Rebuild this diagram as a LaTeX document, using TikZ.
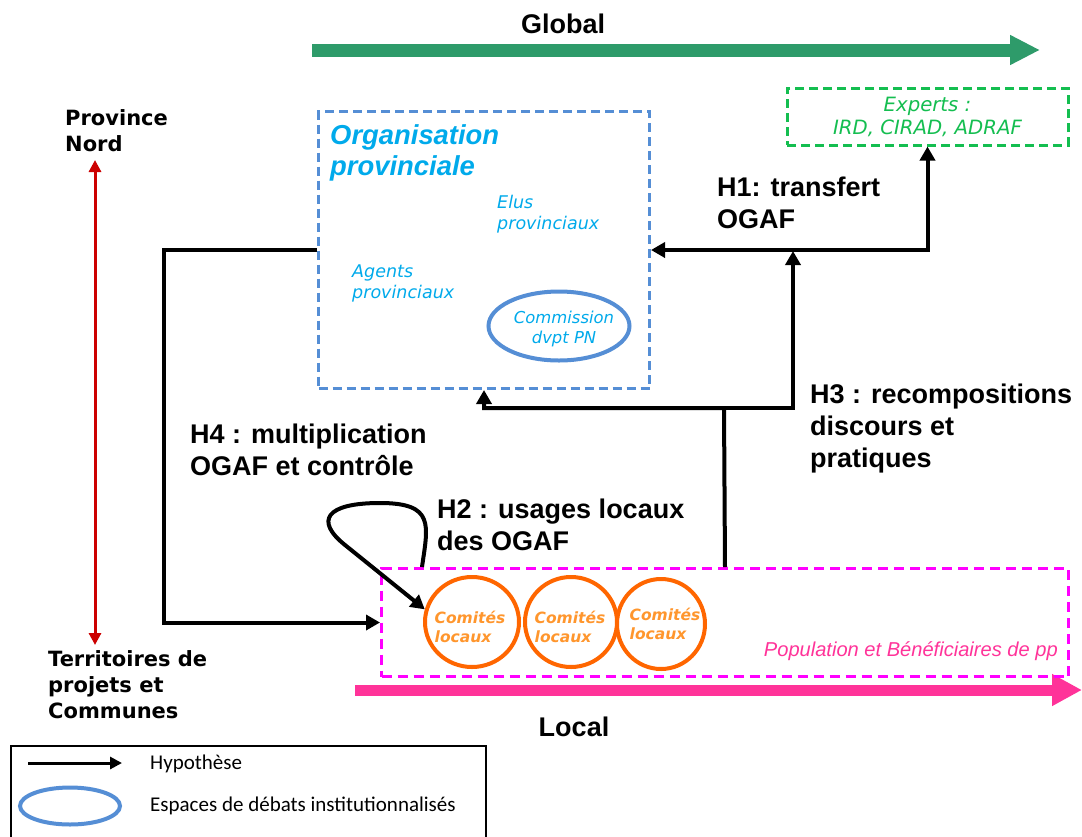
\documentclass[tikz,border=0pt]{standalone}
\usepackage{fontspec}
\setmainfont{Liberation Sans}
\newfontfamily\dvfont{DejaVu Sans}
\newfontfamily\carlfont{Carlito}
\usetikzlibrary{arrows.meta,shapes.geometric}
\definecolor{globgreen}{RGB}{46,155,106}
\definecolor{locpink}{RGB}{255,51,153}
\definecolor{provred}{RGB}{204,0,0}
\definecolor{boxblue}{RGB}{85,142,213}
\definecolor{txtcyan}{RGB}{0,170,235}
\definecolor{expgreen}{RGB}{20,190,80}
\definecolor{magbox}{RGB}{255,0,255}
\definecolor{orangering}{RGB}{255,102,0}
\definecolor{orangetxt}{RGB}{255,150,45}
\tikzset{htip/.tip={Triangle[length=14pt,width=15pt]}}
\begin{document}
\begin{tikzpicture}[x=1pt,y=-1pt,
  hyp/.style={line width=4pt, draw=black},
  hlabel/.style={font=\bfseries\fontsize{27}{32}\selectfont, align=left, anchor=north west, inner sep=0pt},
  axlabel/.style={font=\dvfont\bfseries\fontsize{21}{26}\selectfont, align=left, anchor=north west, inner sep=0pt},
  scaletxt/.style={font=\bfseries\fontsize{27}{32}\selectfont, anchor=base, inner sep=0pt},
  provtxt/.style={font=\dvfont\itshape\fontsize{17.5}{21}\selectfont, text=txtcyan, align=left, anchor=north west, inner sep=0pt},
  dashbox/.style={line width=3pt, dash pattern=on 9pt off 5pt, inner sep=0pt, anchor=north west},
  comring/.style={ellipse, draw=orangering, line width=4pt, minimum height=90pt, inner sep=0pt},
  comtxt/.style={font=\dvfont\bfseries\itshape\fontsize{15.5}{19}\selectfont, text=orangetxt, align=left, inner sep=0pt},
  legtxt/.style={font=\carlfont\fontsize{21}{25}\selectfont, anchor=west, inner sep=0pt}
]
\useasboundingbox (0,0) rectangle (1082,836);
\fill[white] (0,0) rectangle (1082,836);

% scale arrows
\coordinate (g1) at (312,50);
\coordinate (g2) at (1040,50);
\draw[globgreen, line width=13pt, -{Triangle[length=30pt,width=28pt]}] (g1) -- (g2);
\node[scaletxt] (glob) at (563,33) {Global};

\coordinate (l1) at (355,690);
\coordinate (l2) at (1082,690);
\draw[locpink, line width=11pt, -{Triangle[length=30pt,width=30pt]}] (l1) -- (l2);
\node[scaletxt] (loc) at (574,736) {Local};

% vertical axis
\node[axlabel] (pn) at (65,109) {Province\\Nord};
\node[axlabel] (terr) at (48,650) {Territoires de\\projets et\\Communes};
\coordinate (rtop) at (95,160);
\coordinate (rbot) at (95,645);
\draw[provred, line width=3pt, {Triangle[length=12pt,width=12pt]}-{Triangle[length=12pt,width=12pt]}] (rtop) -- (rbot);

% boxes
\node[dashbox, draw=boxblue, minimum width=331pt, minimum height=277pt] (org) at (317,110) {};
\node[dashbox, draw=expgreen, minimum width=281pt, minimum height=57pt, anchor=center,
      font=\dvfont\itshape\fontsize{19.7}{23}\selectfont, text=expgreen, align=center] (exp) at (927.5,116.5) {Experts :\\IRD, CIRAD, ADRAF};
\node[dashbox, draw=magbox, dash pattern=on 10pt off 6pt, minimum width=687pt, minimum height=108pt] (pop) at (380,567) {};

% inside org
\node[font=\bfseries\itshape\fontsize{27.4}{31}\selectfont, text=txtcyan, align=left, anchor=north west, inner sep=0pt] (ot) at (330,124) {Organisation\\provinciale};
\node[provtxt] (elus) at (497,195) {Elus\\provinciaux};
\node[provtxt] (agents) at (352,265) {Agents\\provinciaux};
\node[ellipse, draw=boxblue, line width=4pt, minimum width=141pt, minimum height=69pt, inner sep=0pt] (com) at (559,326) {};
\node[font=\dvfont\itshape\fontsize{16.4}{20}\selectfont, text=txtcyan, align=center, inner sep=0pt] (comt) at (564,329) {Commission\\dvpt PN};

% comites
\node[comring, minimum width=94pt] (c1) at (472,622) {};
\node[comring, minimum width=92pt] (c2) at (571,622) {};
\node[comring, minimum width=88pt] (c3) at (661,624) {};
\node[comtxt] (t1) at (470,627) {Comités\\locaux};
\node[comtxt] (t2) at (570,627) {Comités\\locaux};
\node[comtxt] (t3) at (665,624) {Comités\\locaux};
\node[font=\itshape\fontsize{20.1}{24}\selectfont, text=locpink, anchor=base east, inner sep=0pt] (popt) at (1058,656) {Population et Bénéficiaires de pp};

% hypotheses
\draw[hyp, htip-htip] (org.east) -| (exp.south);
\coordinate (h3j) at (724,408);
\coordinate (h3t) at (793,251);
\draw[hyp, -htip] (pop.north) -- (h3j) -| (org.south);
\draw[hyp, -htip] (h3j) -| (h3t);
\coordinate (h4c) at (164,248);
\draw[hyp, -htip] (org.west) -- (org.west -| h4c) |- (pop.west);
\coordinate (h2s) at (422,567);
\draw[hyp, -htip] (h2s) .. controls (428,525) and (435,503) .. (380,503)
   .. controls (325,503) and (315,521) .. (345,545) -- (c1.165);

\node[hlabel] (h1) at (717,177) {H1: transfert\\OGAF};
\node[hlabel] (h3) at (810,384) {H3 : recompositions\\discours et\\pratiques};
\node[hlabel] (h4) at (190,424) {H4 : multiplication\\OGAF et contrôle};
\node[hlabel] (h2) at (437,499) {H2 : usages locaux\\des OGAF};

% legend
\node[draw=black, line width=1.5pt, minimum width=475pt, minimum height=100pt, anchor=north west, inner sep=0pt] (leg) at (10,745) {};
\coordinate (la) at (28,763);
\coordinate (lb) at (122,763);
\draw[line width=3pt, -{Triangle[length=12pt,width=12pt]}] (la) -- (lb);
\node[ellipse, draw=boxblue, line width=4pt, minimum width=100pt, minimum height=37pt, inner sep=0pt] (lell) at (70,806) {};
\node[legtxt] (lt1) at (150,764) {Hypothèse};
\node[legtxt] (lt2) at (150,806) {Espaces de débats institutionnalisés};
\end{tikzpicture}
\end{document}
